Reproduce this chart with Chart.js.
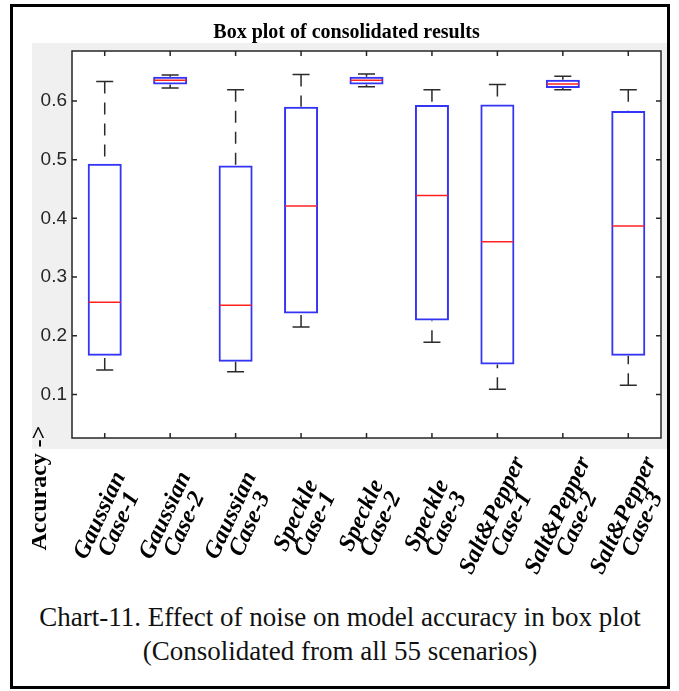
<!DOCTYPE html>
<html>
<head>
<meta charset="utf-8">
<title>Box plot of consolidated results</title>
<script src="https://cdn.jsdelivr.net/npm/chart.js@4.4.1/dist/chart.umd.min.js"></script>
<style>
  body { margin: 0; background: #fff; }
  #frame { position: absolute; left: 10px; top: 4px; width: 654px; height: 679px; border: 3px solid #000; z-index: 2; pointer-events: none; }
  #wrap { position: absolute; left: 32px; top: 8px; width: 636px; height: 590px; }
  #caption { position: absolute; left: 10px; top: 600px; width: 660px; text-align: center; font: 27px/34px "Liberation Serif", serif; color: #111; }
</style>
</head>
<body>
<div id="wrap"><canvas id="myChart"></canvas></div>
<div id="caption">Chart-11. Effect of noise on model accuracy in box plot<br>(Consolidated from all 55 scenarios)</div>
<div id="frame"></div>
<script>
const chartTitle = 'Box plot of consolidated results'
const yTitle = 'Accuracy ->'

const categories = [
  ['Gaussian', 'Case-1'], ['Gaussian', 'Case-2'], ['Gaussian', 'Case-3'],
  ['Speckle', 'Case-1'], ['Speckle', 'Case-2'], ['Speckle', 'Case-3'],
  ['Salt&Pepper', 'Case-1'], ['Salt&Pepper', 'Case-2'], ['Salt&Pepper', 'Case-3']
]

// five numbers per box
const whiskerLow  = [0.142, 0.622, 0.139, 0.215, 0.624, 0.189, 0.109, 0.619, 0.116]
const q1          = [0.166, 0.628, 0.156, 0.238, 0.628, 0.226, 0.151, 0.622, 0.166]
const medians     = [0.257, 0.635, 0.252, 0.421, 0.635, 0.439, 0.360, 0.629, 0.387]
const q3          = [0.493, 0.641, 0.490, 0.590, 0.641, 0.593, 0.594, 0.636, 0.583]
const whiskerHigh = [0.633, 0.644, 0.619, 0.645, 0.646, 0.619, 0.628, 0.642, 0.619]

const yTicks = [0.1, 0.2, 0.3, 0.4, 0.5, 0.6]
const yRange = [0.026, 0.685]

// whiskers, medians, inward ticks and the rotated labels (matlab look)
const boxPlotPlugin = {
  id: 'boxPlot',
  beforeDraw: chart => {
    const {ctx, chartArea: a} = chart
    ctx.save()
    ctx.fillStyle = '#f0f0f0'
    ctx.fillRect(0, a.top - 8, chart.width, a.bottom - a.top + 19)
    ctx.fillStyle = '#fff'
    ctx.fillRect(a.left, a.top, a.right - a.left, a.bottom - a.top)
    ctx.restore()
  },
  afterDatasetsDraw: chart => {
    const {ctx, chartArea: a, scales: {x, y}} = chart
    const bars = chart.getDatasetMeta(0).data
    ctx.save()
    bars.forEach((bar, i) => {
      const half = bar.width / 2
      const lo = y.getPixelForValue(whiskerLow[i]),
            hi = y.getPixelForValue(whiskerHigh[i])

      ctx.strokeStyle = '#2b2b2b'
      ctx.lineWidth = 1.5
      ctx.setLineDash([12, 9])
      ctx.beginPath()
      ctx.moveTo(bar.x, hi)
      ctx.lineTo(bar.x, y.getPixelForValue(q3[i]))
      ctx.moveTo(bar.x, lo)
      ctx.lineTo(bar.x, y.getPixelForValue(q1[i]))
      ctx.stroke()
      ctx.setLineDash([])

      ctx.beginPath()
      ctx.moveTo(bar.x - half / 2, hi)
      ctx.lineTo(bar.x + half / 2, hi)
      ctx.moveTo(bar.x - half / 2, lo)
      ctx.lineTo(bar.x + half / 2, lo)
      ctx.stroke()

      const med = y.getPixelForValue(medians[i])
      ctx.strokeStyle = '#ff2020'
      ctx.beginPath()
      ctx.moveTo(bar.x - half + 1, med)
      ctx.lineTo(bar.x + half - 1, med)
      ctx.stroke()
    })

    // axes box with inward ticks
    ctx.strokeStyle = '#262626'
    ctx.lineWidth = 1.5
    ctx.strokeRect(a.left, a.top, a.right - a.left, a.bottom - a.top)
    ctx.beginPath()
    yTicks.forEach(v => {
      const py = y.getPixelForValue(v)
      ctx.moveTo(a.left, py)
      ctx.lineTo(a.left + 5, py)
      ctx.moveTo(a.right, py)
      ctx.lineTo(a.right - 5, py)
    })
    x.ticks.forEach((t, i) => {
      const px = x.getPixelForTick(i)
      ctx.moveTo(px, a.bottom)
      ctx.lineTo(px, a.bottom - 5)
      ctx.moveTo(px, a.top)
      ctx.lineTo(px, a.top + 5)
    })
    ctx.stroke()
    ctx.restore()
  },
  afterDraw: chart => {
    const {ctx, chartArea: a, scales: {x}} = chart
    ctx.save()
    ctx.fillStyle = '#000'
    ctx.textAlign = 'center'
    ctx.textBaseline = 'middle'

    ctx.font = 'italic bold 24px "Liberation Serif"'
    chart.data.labels.forEach((lines, i) => {
      ctx.save()
      ctx.translate(x.getPixelForTick(i) + 5, a.bottom + 82)
      ctx.rotate(-65 * Math.PI / 180)
      lines.forEach((s, j) => ctx.fillText(s, 0, (j - (lines.length - 1) / 2) * 21))
      ctx.restore()
    })

    ctx.font = 'bold 24px "Liberation Serif"'
    ctx.translate(a.left - 32, a.bottom + 50)
    ctx.rotate(-Math.PI / 2)
    ctx.fillText(yTitle, 0, 0)
    ctx.restore()
  }
}

const ctx = document.getElementById('myChart').getContext('2d')
const chart = new Chart(ctx, {
  type: 'bar',
  data: {
    labels: categories,
    datasets: [{
      data: q1.map((v, i) => [v, q3[i]]),
      backgroundColor: 'rgba(0,0,0,0)',
      borderColor: '#3434f4',
      borderWidth: 2,
      borderSkipped: false,
      barPercentage: 0.52,
      categoryPercentage: 1
    }]
  },
  options: {
    responsive: true,
    maintainAspectRatio: false,
    animation: false,
    layout: { padding: { right: 7 } },
    plugins: {
      legend: { display: false },
      tooltip: { enabled: false },
      title: {
        display: true,
        text: chartTitle,
        color: '#000',
        font: { family: '"Liberation Serif"', size: 20, weight: 'bold' },
        padding: { top: 13, bottom: 6 }
      }
    },
    scales: {
      x: {
        grid: { display: false, drawTicks: false },
        border: { display: false },
        ticks: { display: false },
        afterFit: s => {
          s.height = 160
          s.paddingLeft = 0
          s.paddingRight = 0
        }
      },
      y: {
        min: yRange[0],
        max: yRange[1],
        afterBuildTicks: s => { s.ticks = yTicks.map(v => ({ value: v })) },
        afterFit: s => { s.width = 40 },
        grid: { display: false, drawTicks: false },
        border: { display: false },
        ticks: {
          padding: 5,
          color: '#262626',
          font: { family: '"Liberation Sans", Arial, sans-serif', size: 19 }
        }
      }
    }
  },
  plugins: [boxPlotPlugin]
})
</script>
</body>
</html>
